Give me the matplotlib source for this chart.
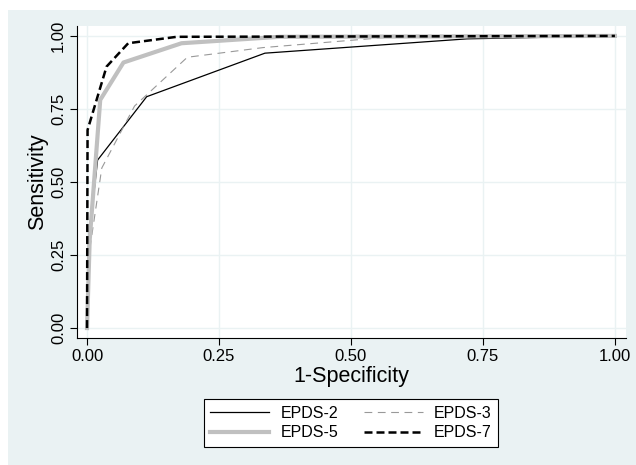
import matplotlib
matplotlib.use("Agg")
import matplotlib.pyplot as plt
from matplotlib.patches import Rectangle

plt.rcParams['font.family'] = ['Liberation Sans', 'DejaVu Sans']

# ROC points (1-specificity, sensitivity)
epds2_x = [0.0, 0.003, 0.020, 0.113, 0.337, 0.72, 1.0]
epds2_y = [0.0, 0.30, 0.575, 0.792, 0.941, 0.99, 1.0]

epds3_x = [0.0, 0.006, 0.028, 0.09, 0.19, 0.333, 0.60, 1.0]
epds3_y = [0.0, 0.28, 0.548, 0.76, 0.927, 0.96, 1.0, 1.0]

epds5_x = [0.0, 0.005, 0.025, 0.069, 0.179, 0.365, 1.0]
epds5_y = [0.0, 0.30, 0.781, 0.909, 0.975, 0.997, 1.0]

epds7_x = [0.0, 0.001, 0.037, 0.078, 0.17, 1.0]
epds7_y = [0.0, 0.678, 0.895, 0.975, 0.997, 1.0]

ticks = [0.0, 0.25, 0.5, 0.75, 1.0]
tick_labels = ['0.00', '0.25', '0.50', '0.75', '1.00']

bg = '#eaf2f3'

fig = plt.figure(figsize=(6.36, 4.65), dpi=100)
fig.patch.set_facecolor('white')
# stata graph region (light bluish gray)
fig.patches.append(Rectangle((8 / 636, 0), 1 - 8 / 636, 1 - 10 / 465,
                             transform=fig.transFigure, facecolor=bg,
                             edgecolor='none', zorder=-10))

ax = fig.add_axes([77 / 636, 1 - 338 / 465, 549 / 636, 312 / 465])
ax.set_facecolor('white')

l2, = ax.plot(epds2_x, epds2_y, color='black', lw=0.9, label='EPDS-2')
l3, = ax.plot(epds3_x, epds3_y, color='#999999', lw=0.8, dashes=(7, 5),
              label='EPDS-3')
l5, = ax.plot(epds5_x, epds5_y, color='#c0c0c0', lw=3.0, label='EPDS-5')
l7, = ax.plot(epds7_x, epds7_y, color='black', lw=1.8, dashes=(3.2, 1.6),
              label='EPDS-7')

ax.set_xlim(-0.019, 1.021)
ax.set_ylim(-0.034, 1.034)
ax.set_xticks(ticks)
ax.set_xticklabels(tick_labels)
ax.set_yticks(ticks)
ax.set_yticklabels(tick_labels, rotation=90, va='center')
ax.grid(True, color=bg, lw=1.0)
ax.set_axisbelow(True)

for side in ['top', 'right']:
    ax.spines[side].set_visible(False)
for side in ['left', 'bottom']:
    ax.spines[side].set_color('black')
    ax.spines[side].set_linewidth(0.8)
ax.tick_params(labelsize=12, length=5, width=0.8, color='black', pad=3)

ax.set_xlabel('1-Specificity', fontsize=15.5, labelpad=1)
ax.set_ylabel('Sensitivity', fontsize=15.5, labelpad=2)

# stata fills legend row by row; matplotlib column by column
leg = fig.legend([l2, l5, l3, l7], ['EPDS-2', 'EPDS-5', 'EPDS-3', 'EPDS-7'],
                 loc='center', bbox_to_anchor=(351 / 636, 1 - 423 / 465),
                 ncol=2, fontsize=11.5, frameon=True, fancybox=False,
                 handlelength=3.7, handletextpad=0.7, columnspacing=1.6,
                 labelspacing=0.3, borderpad=0.4)
leg.get_frame().set_edgecolor('black')
leg.get_frame().set_linewidth(0.8)
leg.get_frame().set_facecolor('white')
leg.get_frame().set_alpha(1)

fig.savefig('out.png', dpi=100, facecolor=fig.get_facecolor())
